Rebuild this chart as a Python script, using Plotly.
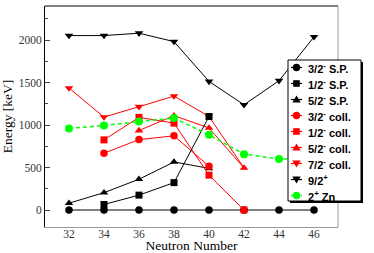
import plotly.graph_objects as go

# ---------------- data ----------------
sp32_x = [32, 34, 36, 38, 40, 42, 44, 46]
sp32_y = [0, 0, 0, 0, 0, 0, 0, 0]
sp12_x = [34, 36, 38, 40]
sp12_y = [65, 175, 322, 1100]
sp52_x = [32, 34, 36, 38, 40]
sp52_y = [80, 204, 362, 565, 490]
coll32_x = [34, 36, 38, 40]
coll32_y = [668, 828, 873, 515]
coll12_x = [34, 36, 38, 40, 42]
coll12_y = [825, 1090, 1022, 410, 0]
coll52_x = [36, 38, 40, 42]
coll52_y = [935, 1110, 965, 495]
coll72_x = [32, 34, 36, 38, 40, 42]
coll72_y = [1435, 1093, 1215, 1340, 1100, 495]
j92_x = [32, 34, 36, 38, 40, 42, 44, 46]
j92_y = [2052, 2052, 2080, 1981, 1513, 1238, 1521, 2037]
zn_x = [32, 34, 36, 38, 40, 42, 44, 46]
zn_y = [960, 994, 1041, 1081, 884, 657, 601, 600]

x_ticks = [32, 34, 36, 38, 40, 42, 44, 46]
y_ticks = [0, 500, 1000, 1500, 2000]

legend_labels = ["3/2<sup>-</sup> S.P.", "1/2<sup>-</sup> S.P.", "5/2<sup>-</sup> S.P.",
                 "3/2<sup>-</sup> coll.", "1/2<sup>-</sup> coll.", "5/2<sup>-</sup> coll.",
                 "7/2<sup>-</sup> coll.", "9/2<sup>+</sup>", "2<sup>+</sup> Zn"]

BLACK = "#000000"
RED = "#ff0000"
GREEN = "#00ff00"

# ---------------- layout geometry (pixels) ----------------
W, H = 374, 253
L, R, T, B = 45, 36, 6, 26
PW, PH = W - L - R, H - T - B


def px(x):
    return (x - L) / PW


def py(y):
    return (H - B - y) / PH


fig = go.Figure()


def add(xs, ys, color, symbol, size=7.5, dash=None, width=1, hide_last=False):
    sizes = [size] * len(xs)
    if hide_last:
        sizes[-1] = 0
    fig.add_trace(go.Scatter(
        x=xs, y=ys, mode="lines+markers", showlegend=False,
        line=dict(color=color, width=width, dash=dash),
        marker=dict(color=color, symbol=symbol, size=sizes, opacity=1, line=dict(width=0)),
    ))


# drawing order chosen to match overlaps in the reference
add(sp32_x, sp32_y, BLACK, "circle")
add(sp52_x, sp52_y, BLACK, "triangle-up")
add(coll72_x, coll72_y, RED, "triangle-down", hide_last=True)
add(coll52_x, coll52_y, RED, "triangle-up")
add(coll32_x, coll32_y, RED, "circle")
add(coll12_x, coll12_y, RED, "square", size=7)
add(sp12_x, sp12_y, BLACK, "square", size=7)
add(j92_x, j92_y, BLACK, "triangle-down")
add(zn_x, zn_y, GREEN, "circle", size=8, dash="4px,3px", width=1.5)

shapes = []
# frame: top black, right gray
shapes.append(dict(type="line", xref="paper", yref="paper", x0=0, x1=1, y0=1, y1=1,
                   line=dict(color="black", width=1), layer="above"))
shapes.append(dict(type="line", xref="paper", yref="paper", x0=1, x1=1, y0=0, y1=1,
                   line=dict(color="#999999", width=1), layer="above"))

# legend box with shadow
bx0, bx1, by0, by1 = 288, 361, 60, 201
shapes.append(dict(type="rect", xref="paper", yref="paper",
                   x0=px(bx0 + 2), x1=px(bx1 + 2), y0=py(by0 + 2), y1=py(by1 + 2),
                   fillcolor="black", line=dict(width=0), layer="above"))
shapes.append(dict(type="rect", xref="paper", yref="paper",
                   x0=px(bx0), x1=px(bx1), y0=py(by0), y1=py(by1),
                   fillcolor="white", line=dict(color="black", width=1), layer="above"))

legend_style = [
    (BLACK, "circle", None), (BLACK, "square", None), (BLACK, "triangle-up", None),
    (RED, "circle", None), (RED, "square", None), (RED, "triangle-up", None),
    (RED, "triangle-down", None), (BLACK, "triangle-down", None), (GREEN, "circle", "dash"),
]
annotations = []
mx = 296.5
for i, (lab, (col, sym, dsh)) in enumerate(zip(legend_labels, legend_style)):
    cy = 67.5 + 16 * i
    if dsh:
        shapes.append(dict(type="line", xref="paper", yref="paper", x0=px(291), x1=px(302),
                           y0=py(cy), y1=py(cy), line=dict(color=col, width=1.5, dash="3px,2px"),
                           layer="above"))
    else:
        shapes.append(dict(type="line", xref="paper", yref="paper", x0=px(291), x1=px(302),
                           y0=py(cy), y1=py(cy), line=dict(color=col, width=1.2), layer="above"))
    if sym == "circle":
        r = 3.7
        shapes.append(dict(type="circle", xref="paper", yref="paper",
                           x0=px(mx - r), x1=px(mx + r), y0=py(cy + r), y1=py(cy - r),
                           fillcolor=col, line=dict(width=0), layer="above"))
    elif sym == "square":
        r = 3.3
        shapes.append(dict(type="rect", xref="paper", yref="paper",
                           x0=px(mx - r), x1=px(mx + r), y0=py(cy + r), y1=py(cy - r),
                           fillcolor=col, line=dict(width=0), layer="above"))
    else:
        s = 1 if sym == "triangle-up" else -1
        pts = [(mx - 4.2, cy + 3 * s), (mx + 4.2, cy + 3 * s), (mx, cy - 4 * s)]
        path = "M {} {} L {} {} L {} {} Z".format(*[v for p in pts for v in (px(p[0]), py(p[1]))])
        shapes.append(dict(type="path", xref="paper", yref="paper", path=path,
                           fillcolor=col, line=dict(width=0), layer="above"))
    annotations.append(dict(xref="paper", yref="paper", x=px(306), y=py(cy),
                            xanchor="left", yanchor="middle", showarrow=False,
                            text="<b>" + lab + "</b>",
                            font=dict(family="Liberation Sans, Arial", size=11, color="black")))

serif = "Liberation Serif, Times New Roman, serif"
fig.update_layout(
    width=W, height=H,
    margin=dict(l=L, r=R, t=T, b=B, pad=0, autoexpand=False),
    plot_bgcolor="white", paper_bgcolor="white",
    shapes=shapes, annotations=annotations,
    font=dict(family=serif, size=11.5, color="black"),
    xaxis=dict(range=[30.63, 47.37], tickvals=x_ticks, ticks="", ticklen=0, showgrid=False,
               zeroline=False, showline=True, linecolor="#999999", linewidth=1,
               automargin=False, ticklabelstandoff=-4,
               tickfont=dict(family=serif, size=11.5, color="#333333"),
               title=dict(text="Neutron Number", font=dict(family=serif, size=13.5), standoff=5)),
    yaxis=dict(range=[-200, 2400], tickvals=y_ticks, ticks="inside", ticklen=5,
               tickcolor="#444444", showgrid=False, zeroline=False, showline=True,
               linecolor="black", linewidth=1, automargin=False,
               minor=dict(dtick=250, tick0=0, ticks="inside", ticklen=3, tickcolor="#444444"),
               tickfont=dict(family=serif, size=11.5, color="#333333"),
               title=dict(text="Energy [keV]", font=dict(family=serif, size=13.5), standoff=4)),
)

fig.write_html("out.html", config={"displayModeBar": False},
               post_script="document.body.style.margin='0';document.body.style.overflow='hidden';")
